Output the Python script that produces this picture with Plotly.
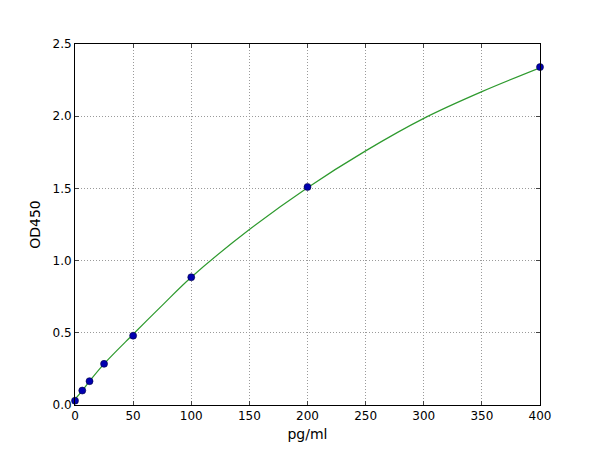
import plotly.graph_objects as go

# pontos do padrão (concentração x OD)
conc = [0, 6.25, 12.5, 25, 50, 100, 200, 400]
od = [0.03, 0.10, 0.165, 0.285, 0.48, 0.885, 1.51, 2.34]

# curva ajustada
fit_x = [0, 6.25, 12.5, 25, 50, 75, 100, 150, 200, 250, 300, 350, 400]
fit_y = [0.04, 0.10, 0.165, 0.285, 0.49, 0.69, 0.885, 1.215, 1.505, 1.76, 1.985, 2.17, 2.335]

x_ticks = [0, 50, 100, 150, 200, 250, 300, 350, 400]
y_ticks = [0.0, 0.5, 1.0, 1.5, 2.0, 2.5]

fig = go.Figure()
fig.add_trace(go.Scatter(x=fit_x, y=fit_y, mode='lines',
                         line=dict(color='#2e9a2e', width=1.2, shape='spline'),
                         hoverinfo='skip'))
fig.add_trace(go.Scatter(x=conc, y=od, mode='markers',
                         marker=dict(color='#0000b0', size=7,
                                     line=dict(color='#000040', width=0.6)),
                         cliponaxis=False))

eixo = dict(showline=True, linecolor='black', linewidth=1, mirror='ticks',
            ticks='inside', ticklen=4, tickcolor='#444444',
            showgrid=True, gridcolor='#9a9a9a', griddash='1px,2px', gridwidth=1,
            zeroline=False, tickfont=dict(size=12, color='black'))

# o body da página tem 8px de margem, por isso o deslocamento
fig.update_layout(
    width=600, height=450,
    margin=dict(l=67, r=68, t=36, b=53),
    plot_bgcolor='white', paper_bgcolor='white',
    showlegend=False,
    font=dict(family='DejaVu Sans', size=12, color='black'),
    xaxis=dict(range=[0, 400], tickvals=x_ticks,
               ticktext=[str(v) for v in x_ticks],
               title=dict(text='pg/ml', standoff=6), **eixo),
    yaxis=dict(range=[0, 2.5], tickvals=y_ticks,
               ticktext=['%.1f' % v for v in y_ticks],
               title=dict(text='OD450', standoff=8), **eixo),
)

fig.write_html("out.html")
